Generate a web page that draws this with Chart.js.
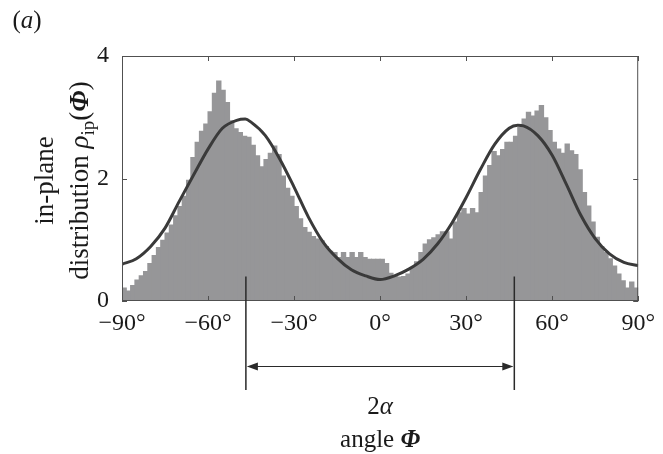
<!DOCTYPE html>
<html>
<head>
<meta charset="utf-8">
<script src="https://cdn.jsdelivr.net/npm/chart.js@4"></script>
<style>
html, body { margin: 0; padding: 0; background: #fff; }
canvas { display: block; }
</style>
</head>
<body>
<canvas id="chart" width="663" height="454"></canvas>
<script>
// histogram of in-plane angle, 1.5 degree bins (centres)
const binCenters = [
-89.25,-87.75,-86.25,-84.75,-83.25,-81.75,-80.25,-78.75,-77.25,-75.75,
-74.25,-72.75,-71.25,-69.75,-68.25,-66.75,-65.25,-63.75,-62.25,-60.75,
-59.25,-57.75,-56.25,-54.75,-53.25,-51.75,-50.25,-48.75,-47.25,-45.75,
-44.25,-42.75,-41.25,-39.75,-38.25,-36.75,-35.25,-33.75,-32.25,-30.75,
-29.25,-27.75,-26.25,-24.75,-23.25,-21.75,-20.25,-18.75,-17.25,-15.75,
-14.25,-12.75,-11.25,-9.75,-8.25,-6.75,-5.25,-3.75,-2.25,-0.75,
0.75,2.25,3.75,5.25,6.75,8.25,9.75,11.25,12.75,14.25,
15.75,17.25,18.75,20.25,21.75,23.25,24.75,26.25,27.75,29.25,
30.75,32.25,33.75,35.25,36.75,38.25,39.75,41.25,42.75,44.25,
45.75,47.25,48.75,50.25,51.75,53.25,54.75,56.25,57.75,59.25,
60.75,62.25,63.75,65.25,66.75,68.25,69.75,71.25,72.75,74.25,
75.75,77.25,78.75,80.25,81.75,83.25,84.75,86.25,87.75,89.25
];
const histValues = [
0.22,0.17,0.26,0.35,0.42,0.49,0.62,0.75,0.88,1.00,
1.12,1.25,1.40,1.55,1.72,1.98,2.35,2.60,2.78,2.90,
3.10,3.40,3.60,3.45,3.25,2.95,2.82,2.76,2.70,2.68,
2.55,2.38,2.20,2.32,2.42,2.54,2.40,2.05,1.85,1.72,
1.55,1.35,1.21,1.13,1.06,1.02,0.99,0.90,0.82,0.80,
0.72,0.80,0.72,0.80,0.72,0.80,0.72,0.69,0.69,0.69,
0.69,0.62,0.46,0.42,0.40,0.41,0.45,0.55,0.65,0.80,
0.94,1.01,1.04,1.09,1.14,1.14,1.02,1.30,1.45,1.52,
1.43,1.52,1.45,1.78,2.05,2.22,2.45,2.38,2.48,2.60,
2.60,2.70,2.84,2.98,3.09,3.03,3.11,3.20,3.00,2.79,
2.60,2.49,2.42,2.57,2.46,2.40,2.15,1.78,1.56,1.30,
1.05,0.90,0.80,0.70,0.58,0.45,0.34,0.22,0.32,0.22
];

// fitted distribution
const fitAngles = [-90,-85,-80,-75,-70,-65,-60,-55,-50,-47,-45,-40,-35,-30,-25,-20,-15,-10,-5,0,
5,10,15,20,25,30,35,40,45,48,50,55,60,65,70,75,80,85,90];
const fitValues = [0.60,0.69,0.89,1.19,1.63,2.06,2.48,2.82,2.95,2.97,2.92,2.70,2.32,1.86,1.37,0.97,0.70,0.51,0.41,0.35,
0.41,0.52,0.68,0.93,1.27,1.69,2.15,2.56,2.82,2.87,2.86,2.70,2.38,1.90,1.40,1.02,0.77,0.63,0.58];

const xTicks = [-90, -60, -30, 0, 30, 60, 90];
const yTicks = [0, 2, 4];
const alpha = 46.8;

const serif = '"Liberation Serif", "Times New Roman", serif';
const ink = '#1a1a1a';

function drawRuns(ctx, runs, cx, cy) {
  let w = 0;
  runs.forEach(r => { ctx.font = r.f; w += ctx.measureText(r.t).width; });
  let px = cx - w / 2;
  runs.forEach(r => {
    ctx.font = r.f;
    ctx.fillText(r.t, px, cy + (r.dy || 0));
    px += ctx.measureText(r.t).width;
  });
}

const decorations = {
  id: 'decorations',
  afterDatasetsDraw(chart) {
    const { ctx, chartArea: a, scales: { x, y } } = chart;
    ctx.save();

    // box with inward ticks
    ctx.strokeStyle = '#505050';
    ctx.lineWidth = 1;
    ctx.strokeRect(a.left + 0.5, a.top + 0.5, a.right - a.left - 1, a.bottom - a.top - 1);
    ctx.beginPath();
    xTicks.forEach(v => {
      const px = Math.round(x.getPixelForValue(v)) + 0.5;
      ctx.moveTo(px, a.bottom); ctx.lineTo(px, a.bottom - 5);
      ctx.moveTo(px, a.top); ctx.lineTo(px, a.top + 5);
    });
    yTicks.forEach(v => {
      const py = Math.round(y.getPixelForValue(v)) + 0.5;
      ctx.moveTo(a.left, py); ctx.lineTo(a.left + 5, py);
      ctx.moveTo(a.right, py); ctx.lineTo(a.right - 5, py);
    });
    ctx.stroke();

    ctx.fillStyle = ink;
    ctx.textBaseline = 'alphabetic';

    // panel label
    drawRuns(ctx, [
      { t: '(', f: '25px ' + serif },
      { t: 'a', f: 'italic 25px ' + serif },
      { t: ')', f: '25px ' + serif }
    ], 27, 28);

    // y title, two rotated lines
    const cy = (a.top + a.bottom) / 2 + 2;
    ctx.save();
    ctx.translate(53, cy);
    ctx.rotate(-Math.PI / 2);
    drawRuns(ctx, [{ t: 'in-plane', f: '27px ' + serif }], 0, 0);
    ctx.restore();
    ctx.save();
    ctx.translate(88, cy);
    ctx.rotate(-Math.PI / 2);
    drawRuns(ctx, [
      { t: 'distribution ', f: '27px ' + serif },
      { t: 'ρ', f: 'italic 27px ' + serif },
      { t: 'ip', f: '19px ' + serif, dy: 6 },
      { t: '(', f: '27px ' + serif },
      { t: 'Φ', f: 'italic bold 27px ' + serif },
      { t: ')', f: '27px ' + serif }
    ], 0, 0);
    ctx.restore();

    // 2 alpha marker
    const xl = x.getPixelForValue(-alpha);
    const xr = x.getPixelForValue(alpha);
    const yTop = y.getPixelForValue(0.4);
    ctx.strokeStyle = '#2a2a2a';
    ctx.lineWidth = 1.5;
    ctx.beginPath();
    ctx.moveTo(xl, yTop); ctx.lineTo(xl, 390);
    ctx.moveTo(xr, yTop); ctx.lineTo(xr, 390);
    ctx.stroke();
    ctx.lineWidth = 1;
    ctx.beginPath();
    ctx.moveTo(xl + 2, 366.5); ctx.lineTo(xr - 2, 366.5);
    ctx.stroke();
    ctx.fillStyle = '#2a2a2a';
    ctx.beginPath();
    ctx.moveTo(xl + 1, 366.5); ctx.lineTo(xl + 12, 362.5); ctx.lineTo(xl + 12, 370.5); ctx.closePath();
    ctx.moveTo(xr - 1, 366.5); ctx.lineTo(xr - 12, 362.5); ctx.lineTo(xr - 12, 370.5); ctx.closePath();
    ctx.fill();

    const mid = (a.left + a.right) / 2;
    ctx.fillStyle = ink;
    drawRuns(ctx, [
      { t: '2', f: '25px ' + serif },
      { t: 'α', f: 'italic 25px ' + serif }
    ], mid, 414);
    drawRuns(ctx, [
      { t: 'angle ', f: '25px ' + serif },
      { t: 'Φ', f: 'italic bold 25px ' + serif }
    ], mid, 447);

    ctx.restore();
  }
};

new Chart(document.getElementById('chart'), {
  type: 'bar',
  data: {
    datasets: [
      {
        type: 'line',
        data: fitAngles.map((a, i) => ({ x: a, y: fitValues[i] })),
        borderColor: '#3a3a3a',
        borderWidth: 3,
        pointRadius: 0,
        cubicInterpolationMode: 'monotone',
        fill: false,
        order: 0
      },
      {
        type: 'bar',
        data: binCenters.map((c, i) => ({ x: c, y: histValues[i] })),
        backgroundColor: '#969698',
        borderWidth: 0,
        inflateAmount: 0,
        // slightly wider than the bin so neighbours overlap and no seams show
        barPercentage: 1.25,
        categoryPercentage: 1,
        order: 1
      }
    ]
  },
  options: {
    responsive: false,
    animation: false,
    layout: { padding: { left: 0, right: 24, top: 56, bottom: 113 } },
    plugins: { legend: { display: false }, tooltip: { enabled: false } },
    scales: {
      x: {
        type: 'linear',
        min: -90,
        max: 90,
        offset: false,
        grid: { display: false, drawTicks: false },
        border: { display: false },
        afterFit: s => { s.height = 40; },
        afterBuildTicks: s => { s.ticks = xTicks.map(v => ({ value: v })); },
        ticks: {
          padding: 8,
          color: ink,
          font: { family: serif, size: 24 },
          callback: v => (v < 0 ? '\u2212' + Math.abs(v) : v) + '\u00b0'
        }
      },
      y: {
        min: 0,
        max: 4,
        grid: { display: false, drawTicks: false },
        border: { display: false },
        afterFit: s => { s.width = 122; },
        afterBuildTicks: s => { s.ticks = yTicks.map(v => ({ value: v })); },
        ticks: {
          padding: 13,
          color: ink,
          font: { family: serif, size: 24 }
        }
      }
    }
  },
  plugins: [decorations]
});
</script>
</body>
</html>
